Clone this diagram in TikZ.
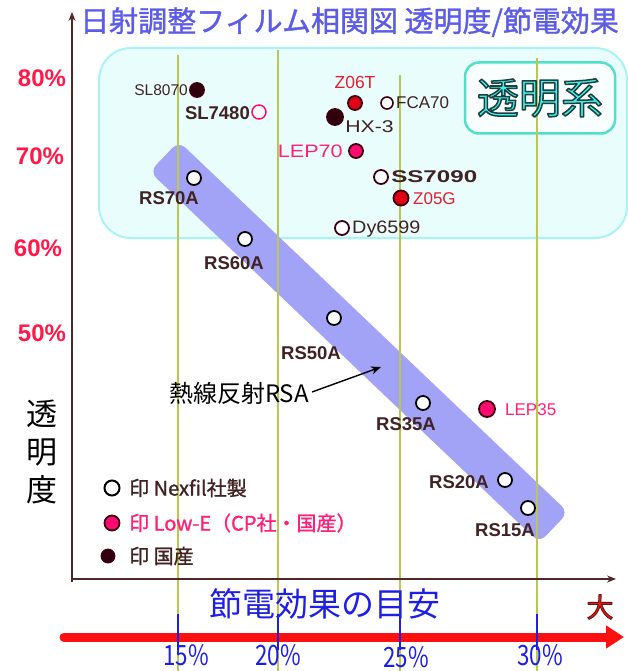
\documentclass[tikz,border=0pt]{standalone}
\usepackage{fontspec}
\setmainfont{Liberation Sans}
\newfontfamily\cjk{Noto Sans CJK JP}
\newfontfamily\cjkb[FakeBold=1.2]{Noto Sans CJK JP}
\usetikzlibrary{arrows.meta}
\definecolor{titleblue}{RGB}{92,92,230}
\definecolor{axisbrown}{RGB}{80,40,40}
\definecolor{olive}{RGB}{184,200,80}
\definecolor{bandblue}{RGB}{162,162,246}
\definecolor{cyanfill}{RGB}{234,253,253}
\definecolor{cyanline}{RGB}{168,244,244}
\definecolor{tealline}{RGB}{80,224,200}
\definecolor{tealtext}{RGB}{64,240,232}
\definecolor{darktext}{RGB}{64,34,34}
\definecolor{darkmark}{RGB}{58,0,16}
\definecolor{redmark}{RGB}{224,0,24}
\definecolor{pinkmark}{RGB}{255,10,112}
\definecolor{redtext}{RGB}{226,30,48}
\definecolor{pinktext}{RGB}{255,32,120}
\definecolor{ypink}{RGB}{255,24,72}
\definecolor{deepblue}{RGB}{30,30,230}
\definecolor{arrowred}{RGB}{255,16,16}
\newcommand{\outl}[4]{{\color{#2}\special{pdf:literal direct #3 RG #4 w 1 j 2 Tr}#1\special{pdf:literal direct 0 Tr}}}
\tikzset{
  mk/.style={circle, inner sep=0pt, minimum size=14pt, line width=1.8pt},
  openc/.style={mk, draw=black, fill=white},
  openbr/.style={mk, draw=darkmark, fill=white},
  openpk/.style={mk, draw=pinkmark, fill=white},
  darkc/.style={mk, draw=darkmark, fill=darkmark!85!black},
  redc/.style={mk, draw=darkmark, fill=redmark},
  pinkc/.style={mk, draw=darkmark, fill=pinkmark},
  lbl/.style={inner sep=0pt, font=\fontsize{17}{17}\selectfont, text=darktext},
  lblb/.style={inner sep=0pt, font=\fontsize{18.5}{18.5}\selectfont\bfseries, text=darktext},
  ylab/.style={inner sep=0pt, font=\fontsize{24}{24}\selectfont\bfseries, text=ypink},
  xlab/.style={inner sep=0pt, font=\fontsize{28}{28}\selectfont\cjk, text=deepblue, xscale=0.8},
  leg/.style={inner sep=0pt, anchor=west, font=\fontsize{20}{20}\selectfont\cjkb},
  vline/.style={olive, line width=1.2pt},
  btick/.style={deepblue, line width=1.3pt},
}
\begin{document}
\begin{tikzpicture}[x=1pt,y=-1pt]
\useasboundingbox (0,0) rectangle (628,671);
\fill[white] (0,0) rectangle (628,671);
% transparent region box
\draw[cyanline, fill=cyanfill, line width=2pt, rounded corners=32pt] (99,48) rectangle (627,238);
% 透明系 box
\node[draw=tealline, line width=2.5pt, fill=white!70!cyanfill, rounded corners=14pt, minimum width=150pt, minimum height=71pt, inner sep=0pt] (tbox) at (540,98) {};
% band
\node[fill=bandblue, rounded corners=9pt, minimum width=538pt, minimum height=42pt, inner sep=0pt, rotate=-43.6] (band) at (359,342) {};
% vertical guide lines
\draw[vline] (178,55) -- (178,671);
\draw[vline] (278,50) -- (278,671);
\draw[vline] (400,75) -- (400,671);
\draw[vline] (537,58) -- (537,671);
\node[inner sep=0pt, font=\fontsize{42}{42}\selectfont\cjk] (tlab) at (tbox.center) {\outl{透明系}{tealtext}{0.12 0.25 0.25}{1.5}};
% title
\node[inner sep=0pt, anchor=west, font=\fontsize{29}{29}\selectfont\cjkb, text=titleblue] (title) at (80,22) {日射調整フィルム相関図 透明度/節電効果};
% axes
\coordinate (ytop) at (72,12);
\coordinate (xend) at (616,579);
\draw[axisbrown, line width=1.6pt, -{Stealth[length=9pt,width=7pt]}] (72,582) -- (ytop);
\draw[axisbrown, line width=1.6pt, -{Stealth[length=9pt,width=7pt]}] (71,579) -- (xend);
% y labels
\node[ylab] (y80) at (42,78) {80\%};
\node[ylab] (y70) at (40,156) {70\%};
\node[ylab] (y60) at (38,248) {60\%};
\node[ylab] (y50) at (42,333) {50\%};
\node[inner sep=0pt, font=\fontsize{31}{38}\selectfont\cjk, align=center] (ylabel) at (42,452) {透\\明\\度};
% markers
\node[darkc] (sl8070) at (197,90) {};
\node[openpk, line width=1.5pt] (sl7480) at (259,112) {};
\node[redc] (z06t) at (355,103) {};
\node[openbr, minimum size=12pt, line width=1.6pt] (fca70) at (387,103) {};
\node[darkc, minimum size=16pt] (hx3) at (335,117) {};
\node[pinkc] (lep70) at (356,151) {};
\node[openbr] (ss7090) at (381,177) {};
\node[redc, minimum size=15pt] (z05g) at (401,198) {};
\node[openbr] (dy6599) at (342,228) {};
\node[openc] (rs70) at (194,178) {};
\node[openc] (rs60) at (245,239) {};
\node[openc] (rs50) at (334,318) {};
\node[openc] (rs35) at (423,403) {};
\node[openc] (rs20) at (505,480) {};
\node[openc] (rs15) at (528,508) {};
\node[pinkc, minimum size=16pt] (lep35) at (487,409) {};
% marker labels
\node[lbl, anchor=east, font=\fontsize{15.5}{15.5}\selectfont] (tsl8070) at (188,90) {SL8070};
\node[lblb, anchor=east] (tsl7480) at (250,113) {SL7480};
\node[lbl, text=redtext, font=\fontsize{17.5}{17.5}\selectfont] (tz06t) at (355,82) {Z06T};
\node[lbl, anchor=west] (tfca70) at (396,103) {FCA70};
\node[lbl, anchor=west, font=\fontsize{17}{17}\selectfont, xscale=1.25] (thx3) at (345,127) {HX-3};
\node[lbl, anchor=east, text=pinktext, font=\fontsize{18}{18}\selectfont, xscale=1.2] (tlep70) at (343,151) {LEP70};
\node[lblb, anchor=west, font=\fontsize{17}{17}\selectfont\bfseries, xscale=1.42] (tss7090) at (391,177) {SS7090};
\node[lbl, anchor=west, text=redtext] (tz05g) at (413,199) {Z05G};
\node[lbl, anchor=west, font=\fontsize{18}{18}\selectfont, xscale=1.1] (tdy6599) at (352,229) {Dy6599};
\node[lblb] (trs70) at (169,198) {RS70A};
\node[lblb] (trs60) at (234,263) {RS60A};
\node[lblb] (trs50) at (311,353) {RS50A};
\node[lblb] (trs35) at (406,424) {RS35A};
\node[lblb, anchor=east] (trs20) at (489,482) {RS20A};
\node[lblb] (trs15) at (505,530) {RS15A};
\node[lbl, anchor=west, text=pinktext] (tlep35) at (505,410) {LEP35};
% RSA label and arrow
\node[inner sep=0pt, font=\fontsize{24}{24}\selectfont\cjk, anchor=east] (rsa) at (309,393) {熱線反射RSA};
\coordinate (rsatip) at (381,367);
\draw[black, line width=1.4pt, -{Stealth[length=10pt,width=8pt]}] (rsa.east) ++(3,-1) -- (rsatip);
% legend
\node[openc, minimum size=15pt, line width=2pt] (lg1) at (112,488) {};
\node[pinkc, minimum size=15pt] (lg2) at (112,523) {};
\node[darkc, minimum size=13pt] (lg3) at (108,556) {};
\node[leg, text=darktext] (tlg1) at (129,488) {印 Nexfil社製};
\node[leg, text=pinktext] (tlg2) at (129,523) {印 Low-E（CP社・国産）};
\node[leg, text=darktext] (tlg3) at (129,556) {印 国産};
% bottom scale
\node[inner sep=0pt, font=\fontsize{33}{33}\selectfont\cjk, text=deepblue] (xtitle) at (325,604) {節電効果の目安};
\node[inner sep=0pt, font=\fontsize{27}{27}\selectfont\cjk] (dai) at (600,607) {\outl{大}{arrowred}{0.35 0.1 0.1}{0.9}};
\coordinate (rs) at (64,637);
\coordinate (re) at (624,637);
\draw[arrowred, line width=9pt, line cap=round, -{Triangle[length=18pt,width=22pt]}] (rs) -- (re);
\foreach \x in {178,278,400,537} \draw[btick] (\x,614) -- (\x,650);
\node[xlab] (p15) at (186,655) {15\%};
\node[xlab] (p20) at (278,655) {20\%};
\node[xlab] (p25) at (406,657) {25\%};
\node[xlab] (p30) at (540,655) {30\%};
\end{tikzpicture}
\end{document}
